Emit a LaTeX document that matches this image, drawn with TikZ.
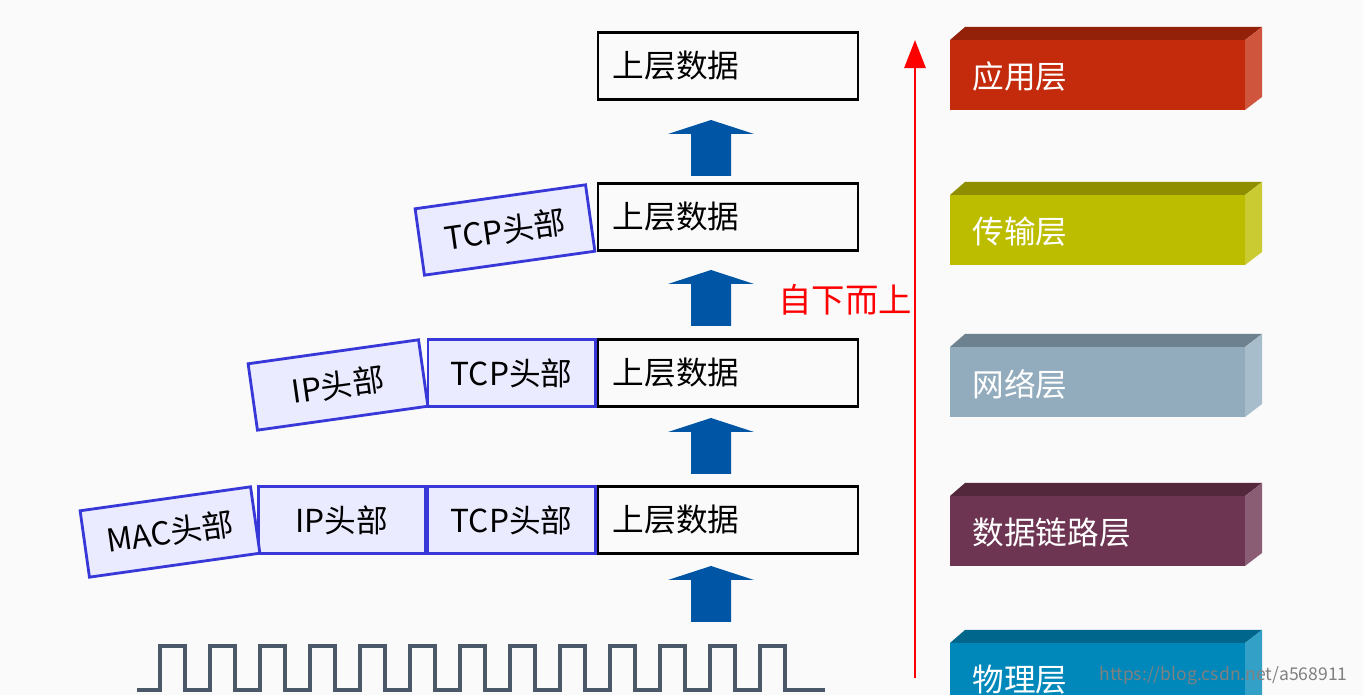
\documentclass[tikz,border=0pt]{standalone}
\usepackage{fontspec}
\setmainfont{Noto Sans CJK SC}
\usetikzlibrary{arrows.meta}
\definecolor{hdrblue}{HTML}{3838D8}
\definecolor{upblue}{HTML}{0055A4}
\definecolor{wave}{HTML}{4A5868}
\begin{document}
\begin{tikzpicture}[x=0.01cm, y=-0.01cm,
  data/.style = {draw, thick, minimum width=2.6cm, minimum height=0.67cm, inner sep=0pt,
                 font=\fontsize{9}{9}\selectfont, text width=2.3cm, align=left},
  hdr/.style  = {draw=hdrblue, thick, fill=blue!8, minimum width=1.67cm, minimum height=0.67cm,
                 inner sep=0pt, font=\fontsize{9}{9}\selectfont},
  tilt/.style = {hdr, minimum width=1.72cm, rotate=8},
  layer/.style= {text=white, font=\fontsize{9}{9}\selectfont, anchor=west}
]
\useasboundingbox (0,0) rectangle (1363,695);
\fill[gray!4] (0,0) rectangle (1363,695);
% data boxes
\node[data] (d1) at (728,66) {上层数据};
\node[data] (d2) at (728,217) {上层数据};
\node[data] (d3) at (728,373) {上层数据};
\node[data] (d4) at (728,520) {上层数据};
% headers
\node[tilt] (t2) at (505,230) {TCP头部};
\node[hdr, anchor=east] (t3) at (d3.west) {TCP头部};
\node[tilt] (i3) at (338,385) {IP头部};
\node[hdr, anchor=east] (t4) at (d4.west) {TCP头部};
\node[hdr, anchor=east] (i4) at (t4.west) {IP头部};
\node[tilt] (m4) at (170,532) {MAC头部};
% up arrows
\foreach \y in {120,270,418,566}
  \fill[upblue] (691,\y+56) -- (691,\y+14) -- (668,\y+14) -- (711,\y) -- (754,\y+14)
    -- (731,\y+14) -- (731,\y+56) -- cycle;
% bottom-up arrow
\coordinate (bot) at (915,678);
\coordinate (top) at (915,40);
\draw[red, thick, -{Triangle[length=8pt,width=6pt]}] (bot) -- (top);
\node[red, font=\fontsize{9.5}{9.5}\selectfont] (lbl) at (845,300) {自下而上};
% layers
\newcommand\layerbox[3]{%
  \fill[#2] (950,#1) rectangle (1245,#1+70);
  \fill[#2!75!black] (950,#1) -- (965,#1-13) -- (1262,#1-13) -- (1245,#1) -- cycle;
  \fill[#2!80!white] (1245,#1) -- (1262,#1-13) -- (1262,#1+57) -- (1245,#1+70) -- cycle;
  \node[layer] at (960,#1+37) {#3};}
\definecolor{lapp}{HTML}{C42A0C}
\definecolor{ltra}{HTML}{BDBD00}
\definecolor{lnet}{HTML}{92ACBE}
\definecolor{llnk}{HTML}{6E3552}
\definecolor{lphy}{HTML}{0088BA}
\layerbox{40}{lapp}{应用层}
\layerbox{195}{ltra}{传输层}
\layerbox{347}{lnet}{网络层}
\layerbox{496}{llnk}{数据链路层}
\layerbox{643}{lphy}{物理层}
% signal
\draw[wave, line width=1.3pt] (137,690) -- (160,690)
  \foreach \i in {0,...,12} { -- ++(0,-44) -- ++(25,0) -- ++(0,44) -- ++(25,0) } -- (825,690);
\node[gray, font=\fontsize{5}{5}\selectfont, anchor=east] (url) at (1360,676) {https://blog.csdn.net/a568911};
\end{tikzpicture}
\end{document}
